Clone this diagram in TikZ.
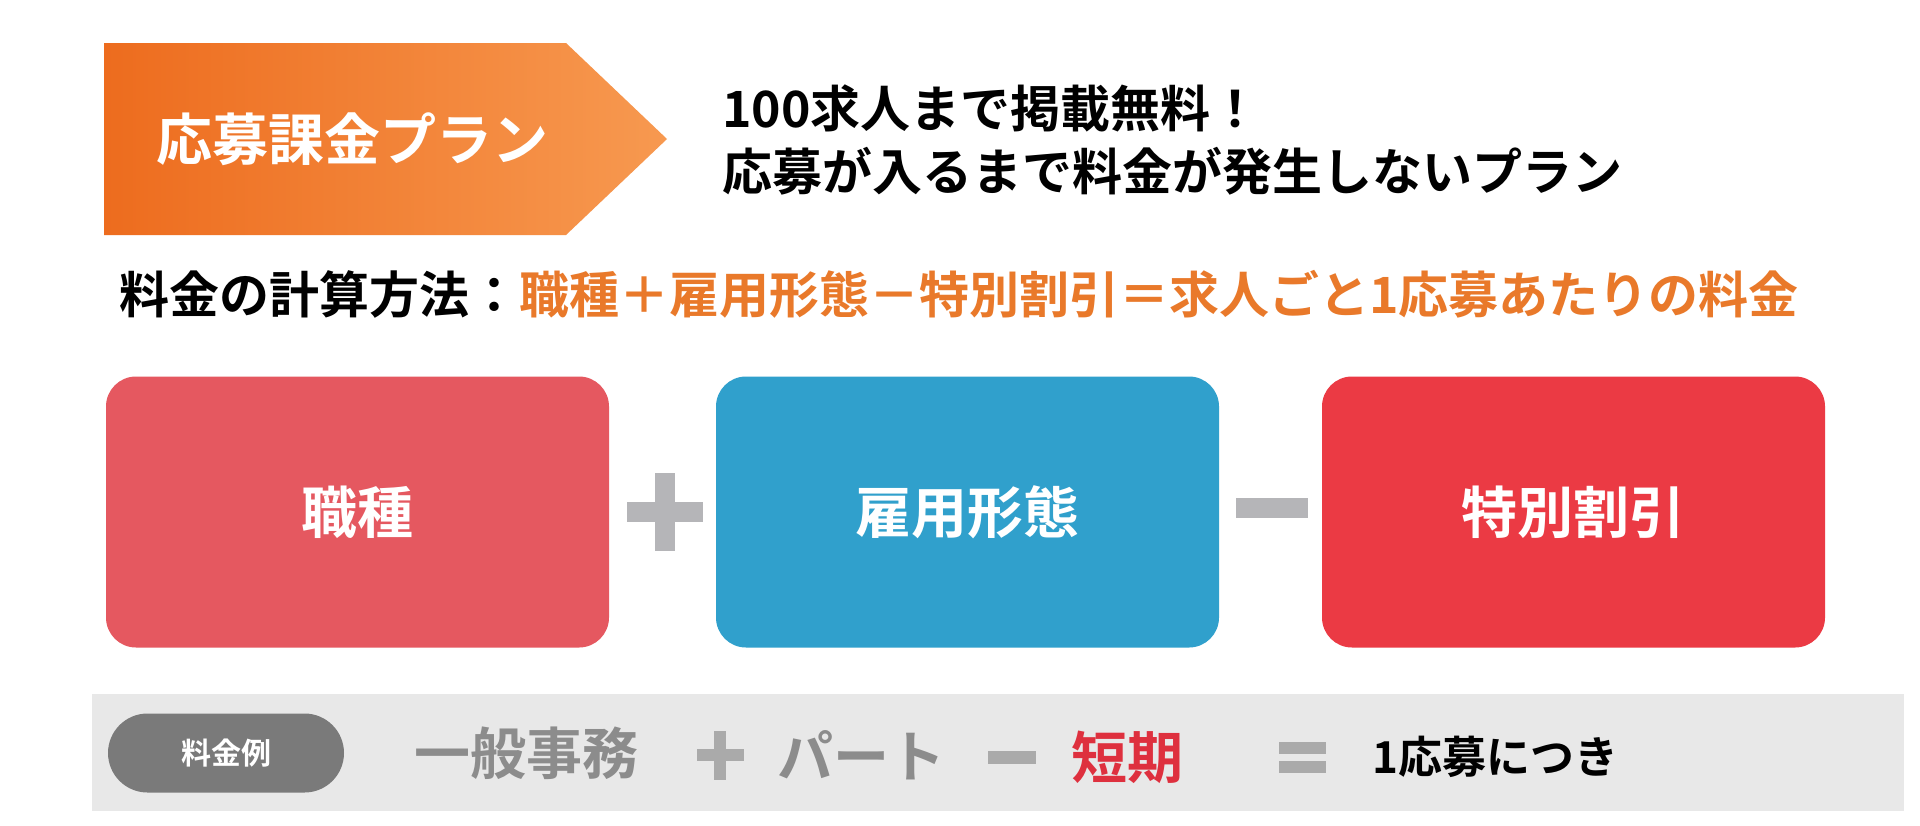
\documentclass[tikz,border=0pt]{standalone}
\usepackage{fontspec}
\setmainfont{Noto Sans CJK JP}[BoldFont={Noto Sans CJK JP Bold}]
\usepackage{tikz}
\usetikzlibrary{positioning}
\definecolor{orL}{RGB}{237,108,30}
\definecolor{orR}{RGB}{247,153,80}
\definecolor{orTxt}{RGB}{233,121,42}
\definecolor{colShoku}{RGB}{229,88,96}
\definecolor{colKoyou}{RGB}{48,160,204}
\definecolor{colToku}{RGB}{235,58,68}
\definecolor{opGray}{RGB}{181,181,184}
\definecolor{exOp}{RGB}{170,170,170}
\definecolor{stripGray}{RGB}{232,232,232}
\definecolor{pillGray}{RGB}{122,122,122}
\definecolor{exGray}{RGB}{140,140,140}
\definecolor{exRed}{RGB}{222,48,62}
\tikzstyle{card}=[rounded corners=15pt, minimum width=251.5pt, minimum height=135.5pt, text=white, font=\fontsize{28}{34}\selectfont\bfseries]
\tikzstyle{opbar}=[fill=opGray, inner sep=0pt]
\tikzstyle{exbar}=[fill=exOp, inner sep=0pt]
\tikzstyle{lead}=[anchor=west, inner sep=0pt, font=\fontsize{25}{30}\selectfont\bfseries]
\tikzstyle{extxt}=[inner sep=0pt, font=\fontsize{28}{34}\selectfont\bfseries]

\begin{document}
\begin{tikzpicture}[x=0.5pt,y=-0.5pt]
    \useasboundingbox[fill=white] (0,0) rectangle (1920,825);
    % header arrow
    \shade[left color=orL, right color=orR] (104,43) -- (566,43) -- (667,139) -- (566,235) -- (104,235) -- cycle;
    \node[text=white, font=\fontsize{28}{34}\selectfont\bfseries] (plan) at (352,139) {応募課金プラン};
    \node[lead] (lineA) at (722,108) {100求人まで掲載無料！};
    \node[lead] (lineB) at (722,171) {応募が入るまで料金が発生しないプラン};
    \node[lead] (calc) at (119,294) {料金の計算方法：\textcolor{orTxt}{職種＋雇用形態－特別割引＝求人ごと1応募あたりの料金}};
    % three cards
    \node[card, fill=colShoku] (shoku) at (357.5,512) {職種};
    \node[card, fill=colKoyou] (koyou) [right of=shoku, node distance=305pt] {雇用形態};
    \node[card, fill=colToku] (toku) [right of=koyou, node distance=303pt] {特別割引};
    \node[opbar, minimum width=38pt, minimum height=10pt] (plusH) [right of=shoku, node distance=153.5pt] {};
    \node[opbar, minimum width=10pt, minimum height=39pt] (plusV) at (plusH) {};
    \node[opbar, minimum width=36pt, minimum height=10pt, yshift=2pt] (minus) [right of=koyou, node distance=152pt] {};
    % example strip
    \fill[stripGray] (92,694) rectangle (1904,811);
    \node[fill=pillGray, rounded corners=19.75pt, minimum width=118pt, minimum height=39.5pt, text=white, font=\fontsize{15}{18}\selectfont\bfseries] (rei) at (226,753) {料金例};
    \node[extxt, text=exGray] (ippan) [right of=rei, node distance=150pt] {一般事務};
    \node[exbar, minimum width=23.5pt, minimum height=6pt, yshift=-1pt] (exPlus) [right of=ippan, node distance=97pt] {};
    \node[exbar, minimum width=6pt, minimum height=24.5pt] (exPlusV) at (exPlus) {};
    \node[extxt, text=exGray] (part) [right of=exPlus, node distance=70.5pt] {パート};
    \node[exbar, minimum width=24pt, minimum height=6.5pt, yshift=-1pt] (exMinus) [right of=part, node distance=75.5pt] {};
    \node[extxt, text=exRed] (tanki) [right of=exMinus, node distance=57.5pt] {短期};
    \node[exbar, minimum width=23.5pt, minimum height=6pt, yshift=4.75pt] (exEqA) [right of=tanki, node distance=87.5pt] {};
    \node[exbar, minimum width=23.5pt, minimum height=6pt, yshift=-4.75pt] (exEqB) [right of=tanki, node distance=87.5pt] {};
    \node[inner sep=0pt, font=\fontsize{22}{26}\selectfont\bfseries] (per) [right of=tanki, node distance=184pt] {1応募につき};
\end{tikzpicture}
\end{document}
